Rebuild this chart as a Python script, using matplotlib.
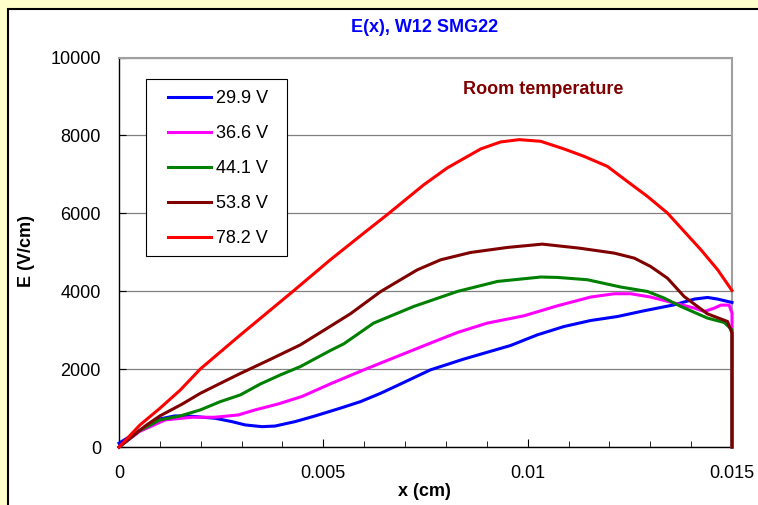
import numpy as np
import matplotlib
matplotlib.use("Agg")
import matplotlib.pyplot as plt
from matplotlib.patches import Rectangle
from matplotlib.ticker import MultipleLocator, FixedLocator, FuncFormatter

plt.rcParams['font.family'] = ['Liberation Sans', 'DejaVu Sans']

# =====================================================
# Field profiles E(x), x in units of 1e-3 cm, E in V/cm
# =====================================================

labels = ['29.9 V', '36.6 V', '44.1 V', '53.8 V', '78.2 V']
colors = ['#0000FF', '#FF00FF', '#008000', '#800000', '#FF0000']

x_299 = [0, 0.39, 0.96, 1.37, 1.78, 2.35, 2.76, 3.09, 3.50, 3.82, 4.31, 4.80,
         5.42, 5.91, 6.40, 6.85, 7.62, 8.44, 9.58, 10.24, 10.89, 11.54, 12.20,
         12.85, 13.59, 14.08, 14.40, 14.65, 15.0]
e_299 = [100, 352, 714, 800, 790, 740, 654, 568, 524, 540, 654, 800,
         1000, 1167, 1380, 1600, 1982, 2260, 2607, 2882, 3095, 3249, 3352,
         3499, 3653, 3799, 3841, 3799, 3712]

x_366 = [0, 0.5, 1.13, 1.78, 2.35, 2.92, 3.33, 3.90, 4.48, 5.17, 5.99, 6.80,
         7.62, 8.28, 9.01, 9.91, 10.73, 11.54, 12.12, 12.52, 13.01, 13.59,
         14.08, 14.32, 14.55, 14.73, 14.93, 15.0, 15.0]
e_366 = [0, 400, 697, 766, 766, 825, 954, 1108, 1300, 1622, 1982, 2324,
         2668, 2941, 3182, 3370, 3627, 3851, 3936, 3936, 3851, 3697,
         3568, 3481, 3560, 3645, 3645, 3440, 0]

x_441 = [0, 0.5, 1.0, 1.5, 1.99, 2.48, 2.97, 3.46, 3.95, 4.44, 5.17, 5.50,
         6.23, 7.21, 8.28, 9.26, 10.32, 10.73, 11.46, 12.28, 12.93, 13.34,
         13.75, 14.40, 14.81, 15.0, 15.0]
e_441 = [0, 420, 697, 800, 954, 1167, 1339, 1620, 1853, 2067, 2478, 2650,
         3182, 3609, 3995, 4252, 4365, 4355, 4296, 4108, 3995, 3825,
         3609, 3311, 3198, 3010, 0]

x_538 = [0, 0.64, 1.0, 1.54, 1.99, 2.68, 2.97, 3.7, 4.44, 5.17, 5.66, 6.40,
         6.89, 7.30, 7.87, 8.60, 9.50, 10.36, 11.26, 12.12, 12.61, 13.01,
         13.42, 13.83, 14.40, 14.89, 15.0, 15.0]
e_538 = [0, 540, 800, 1100, 1380, 1740, 1890, 2250, 2625, 3100, 3420, 3990,
         4296, 4550, 4807, 4995, 5124, 5210, 5107, 4979, 4850, 4635,
         4336, 3864, 3420, 3224, 2925, 0]

x_782 = [0, 0.51, 1.00, 1.50, 1.99, 2.97, 4.27, 5.17, 5.99, 6.56, 7.46, 8.03,
         8.85, 9.34, 9.79, 10.32, 10.89, 11.38, 11.95, 12.36, 12.93, 13.42,
         13.83, 14.24, 14.65, 15.0]
e_782 = [0, 565, 995, 1465, 2005, 2879, 4010, 4807, 5493, 5964, 6735, 7164,
         7653, 7833, 7892, 7849, 7653, 7463, 7206, 6881, 6435, 6008,
         5535, 5064, 4550, 4018]

series_x = [x_299, x_366, x_441, x_538, x_782]
series_e = [e_299, e_366, e_441, e_538, e_782]

x_ticks = [0, 0.005, 0.01, 0.015]
y_ticks = [0, 2000, 4000, 6000, 8000, 10000]

# =====================================================
# Figure
# =====================================================

fig = plt.figure(figsize=(7.58, 5.05), dpi=100, facecolor='#FFFFCC')

# white chart area with black frame
frame = Rectangle((7.5 / 758, -0.05), 1.1, (505 - 8.5) / 505 + 0.05,
                  transform=fig.transFigure, facecolor='white',
                  edgecolor='black', lw=1.5, zorder=0)
fig.add_artist(frame)

ax = fig.add_axes([0.157, 0.1147, 0.8087, 0.7714])
ax.set_facecolor('white')

for xs, es, lab, col in zip(series_x, series_e, labels, colors):
    ax.plot(np.array(xs) * 1e-3, es, color=col, lw=2.2, label=lab,
            clip_on=False, zorder=3)

ax.set_xlim(0, 0.015)
ax.set_ylim(0, 10000)

ax.xaxis.set_major_locator(FixedLocator(x_ticks))
ax.xaxis.set_minor_locator(MultipleLocator(0.001))
ax.yaxis.set_major_locator(FixedLocator(y_ticks))
ax.xaxis.set_major_formatter(FuncFormatter(lambda v, p: '%g' % v))
ax.yaxis.set_major_formatter(FuncFormatter(lambda v, p: '%d' % v))

ax.tick_params(axis='both', which='both', direction='in', labelsize=13,
               colors='black')
ax.tick_params(axis='x', which='major', length=6, pad=13)
ax.tick_params(axis='x', which='minor', length=4)
ax.tick_params(axis='y', which='major', length=5, pad=13)

ax.yaxis.grid(True, color='#808080', lw=0.9)
ax.set_axisbelow(True)

for side in ['left', 'bottom']:
    ax.spines[side].set_color('black')
    ax.spines[side].set_linewidth(1.0)
for side in ['top', 'right']:
    ax.spines[side].set_color('#A0A0A0')
    ax.spines[side].set_linewidth(1.5)

# legend box
ax.add_patch(Rectangle((0.0436, 0.4905), 0.231, 0.4543, transform=ax.transAxes,
                       facecolor='white', edgecolor='black', lw=0.8, zorder=4))
ax.legend(frameon=False, loc='upper left', bbox_to_anchor=(0.0799, 0.917),
          borderpad=0, borderaxespad=0, handlelength=2.4, handletextpad=0.25,
          labelspacing=1.0, fontsize=13)

ax.text(0.01039, 9180, 'Room temperature', color='#800000',
        fontweight='bold', fontsize=13, ha='center', va='center')

fig.text(425 / 758, 1 - 27 / 505, 'E(x), W12 SMG22', color='#0000FF',
         fontweight='bold', fontsize=13, ha='center', va='center')
fig.text(424 / 758, 1 - 491 / 505, 'x (cm)', fontweight='bold', fontsize=13,
         ha='center', va='center')
fig.text(26.7 / 758, 1 - 251 / 505, 'E (V/cm)', fontweight='bold', fontsize=13,
         ha='center', va='center', rotation=90)

fig.savefig('out.png', dpi=100, facecolor=fig.get_facecolor())
